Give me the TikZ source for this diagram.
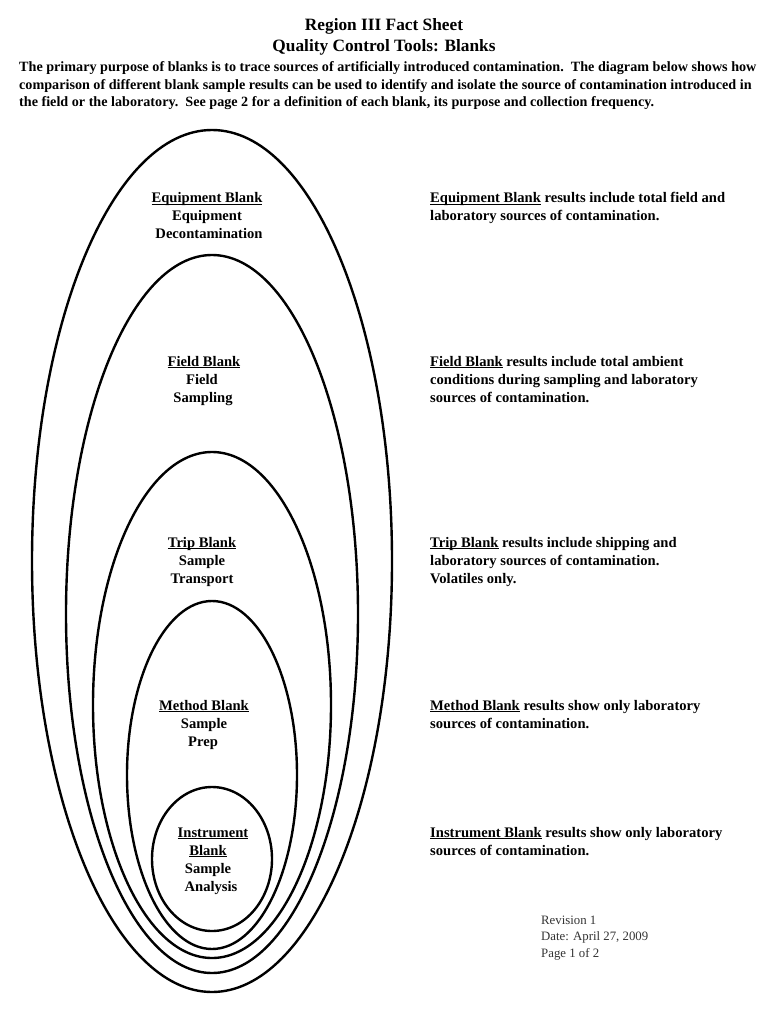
\documentclass[tikz,border=0pt]{standalone}
\usepackage{fontspec}
\setmainfont{Liberation Serif}
\newcommand\myul[1]{\setbox0\hbox{#1}\rlap{\rule[-2pt]{\wd0}{1pt}}\box0\relax}
\begin{document}
\begin{tikzpicture}[x=1pt,y=-1pt,
 ring/.style={draw=black,line width=2.4pt},
 lbl/.style={font=\fontsize{14.6}{18}\selectfont\bfseries,inner sep=0,anchor=base},
 desc/.style={font=\fontsize{14.6}{18}\selectfont\bfseries,inner sep=0,anchor=base west},
 ttl/.style={font=\fontsize{17.3}{20}\selectfont\bfseries,inner sep=0,anchor=base},
 para/.style={font=\fontsize{14.15}{18}\selectfont\bfseries,inner sep=0,anchor=base west},
 rev/.style={font=\fontsize{12.8}{16}\selectfont,text=black!80,inner sep=0,anchor=base west}]
\useasboundingbox[fill=white] (0,0) rectangle (768,1024);
% titles
\node[ttl] (t1) at (384,31) {Region III Fact Sheet};
\node[ttl] (t2) at (384,52) {Quality Control Tools: Blanks};
\node[para] (p1) at (19,72) {The primary purpose of blanks is to trace sources of artificially introduced contamination.\ \ The diagram below shows how};
\node[para] (p2) at (19,90) {comparison of different blank sample results can be used to identify and isolate the source of contamination introduced in};
\node[para] (p3) at (19,107) {the field or the laboratory.\ \ See page 2 for a definition of each blank, its purpose and collection frequency.};
% ellipses
\draw[ring] (212,561) ellipse [x radius=180, y radius=431];
\draw[ring] (212,614) ellipse [x radius=146, y radius=359];
\draw[ring] (212,705) ellipse [x radius=119, y radius=253];
\draw[ring] (212,775) ellipse [x radius=85, y radius=174];
\draw[ring] (212,859) ellipse [x radius=60, y radius=72];
% labels inside
\node[lbl] (e1) at (207,203) {\myul{Equipment Blank}};
\node[lbl] (e2) at (207,221) {Equipment};
\node[lbl] (e3) at (209,239) {Decontamination};
\node[lbl] (f1) at (204,366) {\myul{Field Blank}};
\node[lbl] (f2) at (202,384) {Field};
\node[lbl] (f3) at (203,402) {Sampling};
\node[lbl] (r1) at (202,547) {\myul{Trip Blank}};
\node[lbl] (r2) at (202,565) {Sample};
\node[lbl] (r3) at (202,583) {Transport};
\node[lbl] (m1) at (204,710) {\myul{Method Blank}};
\node[lbl] (m2) at (204,728) {Sample};
\node[lbl] (m3) at (203,746) {Prep};
\node[lbl] (i1) at (213,837) {\myul{Instrument}};
\node[lbl] (i2) at (208,855) {\myul{Blank}};
\node[lbl] (i3) at (208,873) {Sample};
\node[lbl] (i4) at (211,891) {Analysis};
% descriptions
\node[desc] (de1) at (430,203) {\myul{Equipment Blank} results include total field and};
\node[desc] (de2) at (430,221) {laboratory sources of contamination.};
\node[desc] (df1) at (430,366) {\myul{Field Blank} results include total ambient};
\node[desc] (df2) at (430,384) {conditions during sampling and laboratory};
\node[desc] (df3) at (430,402) {sources of contamination.};
\node[desc] (dr1) at (430,547) {\myul{Trip Blank} results include shipping and};
\node[desc] (dr2) at (430,565) {laboratory sources of contamination.};
\node[desc] (dr3) at (430,583) {Volatiles only.};
\node[desc] (dm1) at (430,710) {\myul{Method Blank} results show only laboratory};
\node[desc] (dm2) at (430,728) {sources of contamination.};
\node[desc] (di1) at (430,837) {\myul{Instrument Blank} results show only laboratory};
\node[desc] (di2) at (430,855) {sources of contamination.};
% revision
\node[rev] (v1) at (541,924) {Revision 1};
\node[rev] (v2) at (541,940) {Date: April 27, 2009};
\node[rev] (v3) at (541,957) {Page 1 of 2};
\end{tikzpicture}
\end{document}
